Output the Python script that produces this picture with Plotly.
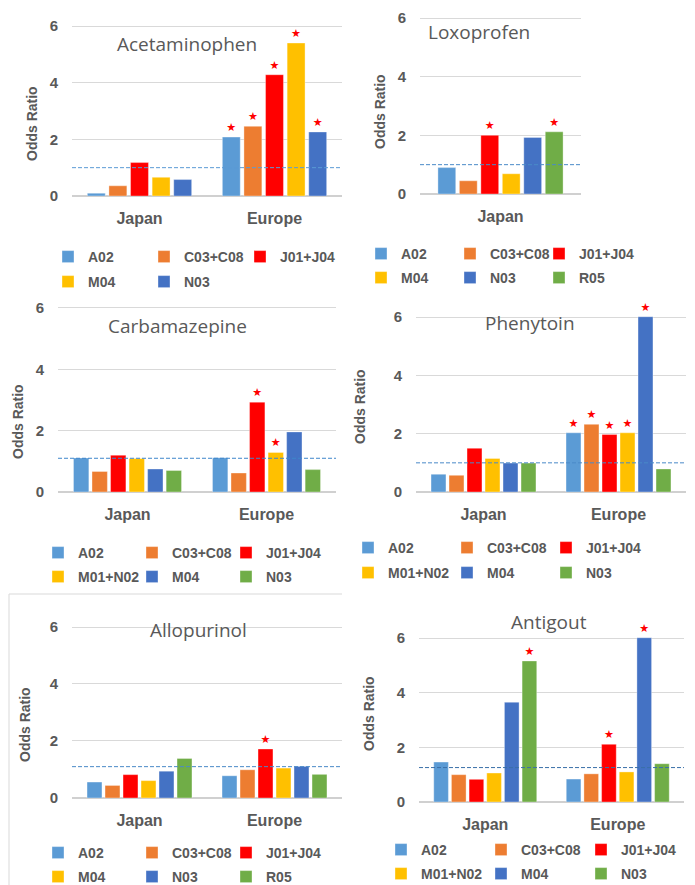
import plotly.graph_objects as go

W, H = 695, 885
OFF = 8  # the page body margin shifts the figure by this many pixels
FONT = "Liberation Sans, Arial, sans-serif"
TITLE_FONT = "Open Sans, Liberation Sans, sans-serif"
GRAY = "#595959"
SLOT_COLORS = ["#5B9BD5", "#ED7D31", "#FF0000", "#FFC000", "#4472C4", "#70AD47"]
STAR = "\u2605"

# ---------------- data ----------------
acet_categories = ["Japan", "Europe"]
acet_series = ["A02", "C03+C08", "J01+J04", "M04", "N03"]
acet_japan = [0.10, 0.36, 1.18, 0.66, 0.58]
acet_europe = [2.08, 2.46, 4.28, 5.40, 2.26]
acet_sig_japan = [False, False, False, False, False]
acet_sig_europe = [True, True, True, True, True]
acet_reference = 1.0

lox_categories = ["Japan"]
lox_series = ["A02", "C03+C08", "J01+J04", "M04", "N03", "R05"]
lox_japan = [0.90, 0.45, 2.00, 0.69, 1.93, 2.12]
lox_sig_japan = [False, False, True, False, False, True]
lox_reference = 1.0

carb_categories = ["Japan", "Europe"]
carb_series = ["A02", "C03+C08", "J01+J04", "M01+N02", "M04", "N03"]
carb_japan = [1.11, 0.67, 1.20, 1.09, 0.75, 0.70]
carb_europe = [1.12, 0.62, 2.93, 1.29, 1.96, 0.73]
carb_sig_japan = [False, False, False, False, False, False]
carb_sig_europe = [False, False, True, True, False, False]
carb_reference = 1.1

phen_categories = ["Japan", "Europe"]
phen_series = ["A02", "C03+C08", "J01+J04", "M01+N02", "M04", "N03"]
phen_japan = [0.61, 0.57, 1.50, 1.15, 0.99, 0.99]
phen_europe = [2.03, 2.32, 1.97, 2.03, 6.01, 0.79]
phen_sig_japan = [False, False, False, False, False, False]
phen_sig_europe = [True, True, True, True, True, False]
phen_reference = 1.0

allo_categories = ["Japan", "Europe"]
allo_series = ["A02", "C03+C08", "J01+J04", "M04", "N03", "R05"]
allo_japan = [0.56, 0.44, 0.82, 0.61, 0.94, 1.39]
allo_europe = [0.78, 0.99, 1.72, 1.05, 1.11, 0.83]
allo_sig_japan = [False, False, False, False, False, False]
allo_sig_europe = [False, False, True, False, False, False]
allo_reference = 1.1

anti_categories = ["Japan", "Europe"]
anti_series = ["A02", "C03+C08", "J01+J04", "M01+N02", "M04", "N03"]
anti_japan = [1.46, 1.00, 0.83, 1.06, 3.65, 5.16]
anti_europe = [0.84, 1.03, 2.11, 1.10, 6.01, 1.40]
anti_sig_japan = [False, False, False, False, False, True]
anti_sig_europe = [False, False, True, False, True, False]
anti_reference = 1.26

y_ticks = [0, 2, 4, 6]

panels = [
    dict(title="Acetaminophen", cats=acet_categories, series=acet_series,
         vals=[acet_japan, acet_europe], sig=[acet_sig_japan, acet_sig_europe], ref=acet_reference,
         box=(72, 342, 26, 196), title_xy=(187, 44), ylab_xy=(32, 124),
         leg=(77, 257, 282, 96), refcolor="#5B9BD5"),
    dict(title="Loxoprofen", cats=lox_categories, series=lox_series,
         vals=[lox_japan], sig=[lox_sig_japan], ref=lox_reference,
         box=(420, 581, 18, 194), title_xy=(479, 32), ylab_xy=(380, 112),
         leg=(390, 254, 278, 89), refcolor="#4A8AC8"),
    dict(title="Carbamazepine", cats=carb_categories, series=carb_series,
         vals=[carb_japan, carb_europe], sig=[carb_sig_japan, carb_sig_europe], ref=carb_reference,
         box=(58, 336, 308, 492), title_xy=(177, 326), ylab_xy=(18, 422),
         leg=(67, 553, 577, 94), refcolor="#3F86CC"),
    dict(title="Phenytoin", cats=phen_categories, series=phen_series,
         vals=[phen_japan, phen_europe], sig=[phen_sig_japan, phen_sig_europe], ref=phen_reference,
         box=(416, 686, 317, 492), title_xy=(530, 323), ylab_xy=(360, 407),
         leg=(377, 548, 573, 99), refcolor="#4A8AC8"),
    dict(title="Allopurinol", cats=allo_categories, series=allo_series,
         vals=[allo_japan, allo_europe], sig=[allo_sig_japan, allo_sig_europe], ref=allo_reference,
         box=(72, 342, 627, 798), title_xy=(198, 630), ylab_xy=(25, 725),
         leg=(67, 853, 877, 94), refcolor="#4A8AC8"),
    dict(title="Antigout", cats=anti_categories, series=anti_series,
         vals=[anti_japan, anti_europe], sig=[anti_sig_japan, anti_sig_europe], ref=anti_reference,
         box=(419, 684, 638, 802), title_xy=(549, 622), ylab_xy=(369, 714),
         leg=(410, 850, 874, 100), refcolor="#3A6FA8"),
]

YMAX = 6.05


def px(x):
    return (x - OFF) / W


def py(y):
    return 1 - (y - OFF) / H


fig = go.Figure()
layout = dict(
    width=W, height=H, margin=dict(l=0, r=0, t=0, b=0, autoexpand=False),
    paper_bgcolor="white", plot_bgcolor="white",
    barmode="group", bargap=0.2, bargroupgap=0.17,
    font=dict(family=FONT, color=GRAY),
    annotations=[], shapes=[],
)

legend_count = 0
for p_i, p in enumerate(panels):
    ax = "" if p_i == 0 else str(p_i + 1)
    l, r, t6, b0 = p["box"]
    scale = (b0 - t6) / 6.0
    top = b0 - YMAX * scale
    xdom = [px(l), px(r)]
    ydom = [py(b0), py(top)]

    # two legends per panel (rows of three entries)
    sx, ry1, ry2, step = p["leg"]
    leg_names = []
    for row_y in (ry1, ry2):
        legend_count += 1
        name = "legend" if legend_count == 1 else f"legend{legend_count}"
        leg_names.append(name)
        layout[name] = dict(
            orientation="h", x=px(sx - 29), xanchor="left",
            y=py(row_y), yanchor="middle",
            entrywidth=step - 45, entrywidthmode="pixels",
            bgcolor="rgba(0,0,0,0)", borderwidth=0,
            font=dict(family=FONT, size=14, color=GRAY, weight="bold"),
            itemclick=False, itemdoubleclick=False,
            tracegroupgap=0,
        )

    for s_i, s_name in enumerate(p["series"]):
        yvals = [vals[s_i] for vals in p["vals"]]
        texts = [STAR if sig[s_i] else "" for sig in p["sig"]]
        extra = {}
        if s_i % 3 == 2:
            extra["legendwidth"] = 80
        fig.add_trace(go.Bar(
            x=p["cats"], y=yvals, name=s_name,
            marker=dict(color=SLOT_COLORS[s_i],
                        line=dict(width=1, color="rgba(255,255,255,0.35)")),
            text=texts, textposition="outside",
            textfont=dict(color="#FF0000", size=11, family="DejaVu Sans"),
            cliponaxis=False,
            xaxis="x" + ax, yaxis="y" + ax,
            legend=leg_names[0] if s_i < 3 else leg_names[1],
            hoverinfo="x+y+name",
            **extra,
        ))

    layout["xaxis" + ax] = dict(
        domain=xdom, anchor="y" + ax, type="category",
        showgrid=False, showline=False, ticks="", zeroline=False,
        tickfont=dict(family=FONT, size=16, color=GRAY, weight="bold"),
        ticklabelstandoff=11, fixedrange=True,
    )
    layout["yaxis" + ax] = dict(
        domain=ydom, anchor="x" + ax, range=[0, YMAX],
        tickvals=y_ticks, showgrid=True, gridcolor="#D9D9D9", gridwidth=1,
        zeroline=True, zerolinecolor="#D0D0D0", zerolinewidth=2,
        showline=False, ticks="",
        tickfont=dict(family=FONT, size=15, color=GRAY, weight="bold"),
        ticklabelstandoff=13, fixedrange=True,
    )

    # reference line at OR = ref value
    layout["shapes"].append(dict(
        type="line", xref="x" + ax + " domain", yref="y" + ax,
        x0=0, x1=1, y0=p["ref"], y1=p["ref"],
        line=dict(color=p["refcolor"], width=1, dash="4px,2px"),
    ))

    tx, ty = p["title_xy"]
    layout["annotations"].append(dict(
        text=p["title"], x=px(tx), y=py(ty), xref="paper", yref="paper",
        xanchor="center", yanchor="middle", showarrow=False,
        font=dict(family=TITLE_FONT, size=19, color=GRAY),
    ))
    lx, lyy = p["ylab_xy"]
    layout["annotations"].append(dict(
        text="Odds Ratio", x=px(lx), y=py(lyy), xref="paper", yref="paper",
        xanchor="center", yanchor="middle", showarrow=False, textangle=-90,
        font=dict(family=FONT, size=14, color=GRAY, weight="bold"),
    ))

# thin frame around the Allopurinol panel
layout["shapes"].append(dict(type="line", xref="paper", yref="paper",
                             x0=px(9), x1=px(342), y0=py(594), y1=py(594),
                             line=dict(color="#D9D9D9", width=1)))
layout["shapes"].append(dict(type="line", xref="paper", yref="paper",
                             x0=px(9), x1=px(9), y0=py(594), y1=py(885),
                             line=dict(color="#D9D9D9", width=1)))

fig.update_layout(**layout)
fig.write_html("out.html")
